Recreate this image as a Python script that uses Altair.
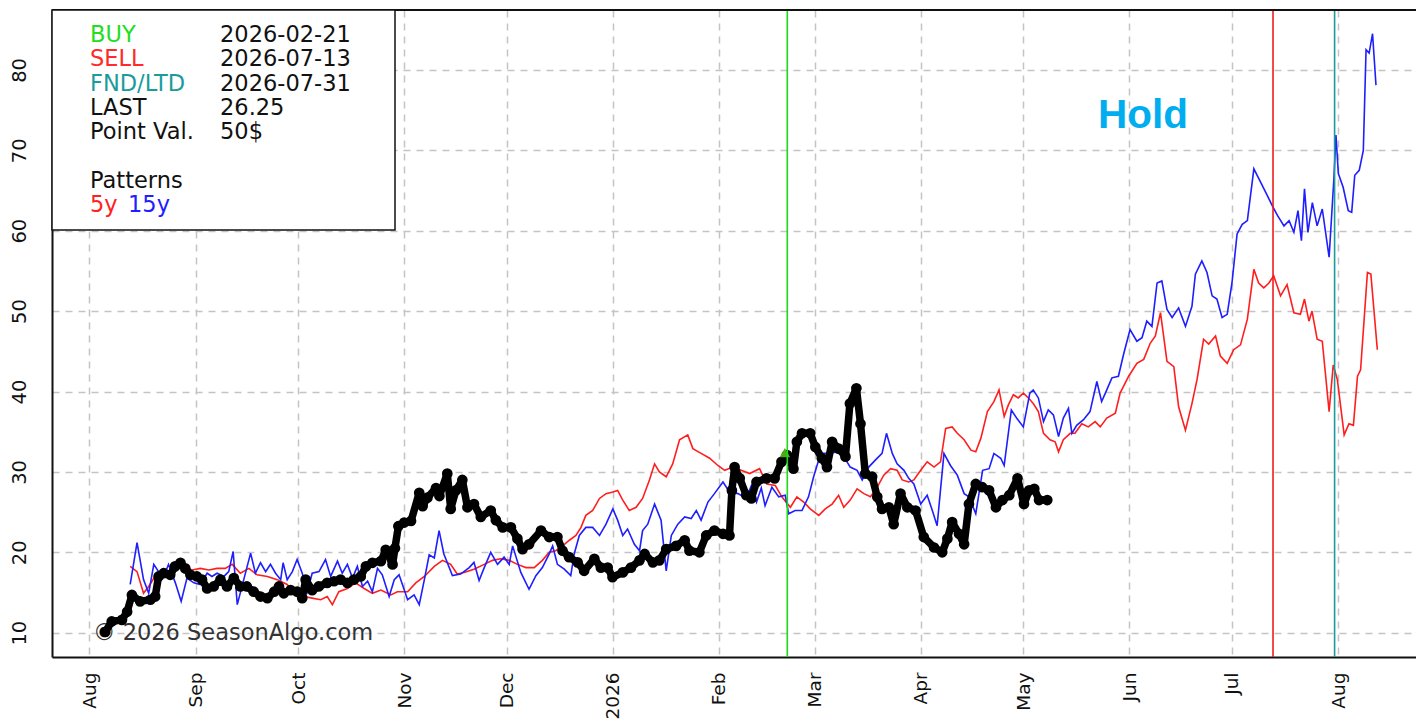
import altair as alt
import pandas as pd

BASE = "2025-08-01"  # day 0 of the day offsets below

# ---- actual contract (black), day offset from 2025-08-01 / price ----
black_day = [4.6, 6.5, 9.5, 11, 12.4, 14.8, 17.8, 19.2, 20.2, 21.7, 23.6, 25, 26.6, 28, 29.5,
             31.4, 32.9, 34.4, 36.3, 38.3, 40.2, 42.2, 44.1, 46, 48, 50, 52, 54, 55.4, 56.8,
             58.8, 60.7, 62.2, 63.2, 65.1, 67, 69.5, 71.5, 73.4, 75.4, 77.3, 79.3, 80.8, 82.7,
             85.2, 86.6, 88.6, 89.3, 90.3, 92, 94, 96.4, 97.4, 98.8, 101.3, 102.3, 104.6, 105.6,
             107.1, 109, 110.5, 112.4, 114.4, 117.3, 118.8, 120.8, 123.2, 125.1, 126.6, 128.5,
             132, 134.4, 136.8, 138.3, 140.2, 142.7, 144.6, 147.6, 149.5, 151.5, 152.9, 155.9,
             158.3, 160.8, 162.3, 164.7, 166.6, 168.6, 171.5, 174, 175.4, 178.3, 180.3, 182.7,
             185.2, 187.1, 187.8, 188.6, 190.1, 192, 193.5, 195, 197.9, 200.3, 202.3, 203.9,
             205.8, 206.8, 208.3, 210.7, 212.2, 214.1, 215.6, 217.1, 219, 221, 222.3, 224.2,
             225.4, 226.8, 228.8, 230.3, 231.7, 233.7, 235.1, 237.1, 239.1, 241.5, 243.9, 246.9,
             249.3, 250.8, 252.2, 254.2, 255.7, 257.1, 259.1, 261, 263, 265, 266.9, 268.9, 271.3,
             273.2, 274.7, 276.2, 277.6, 280]
black_val = [10.1, 11.4, 11.6, 12.6, 14.7, 13.9, 14.1, 14.5, 17, 17.4, 17.2, 18.25, 18.7, 18, 17.2,
             17, 16.6, 15.5, 15.75, 16.6, 15.75, 16.8, 15.75, 15.75, 15.1, 14.5, 14.3, 15.1, 15.75, 14.9,
             15.3, 15.1, 14.3, 16.6, 15.3, 15.75, 16.2, 16.4, 16.6, 16.2, 16.6, 17, 18.25, 18.7,
             18.9, 20.3, 18.5, 20.5, 23.25, 23.7, 23.9, 27.4, 25.75, 26.8, 28, 27, 29.8, 25.4,
             27.7, 29, 25.6, 26, 24.4, 25.2, 24, 23.1, 23.1, 21.7, 20.4, 21,
             22.7, 21.9, 21.9, 20.2, 19.4, 18.75, 17.7, 19.2, 18.1, 18.1, 16.9, 17.5,
             18.1, 19, 19.8, 18.75, 19, 20.4, 20.8, 21.5, 20.2, 20, 22.1, 22.7,
             22.3, 22.1, 27.7, 30.6, 29.2, 27.1, 26.7, 28.75, 29.2, 29.2, 31.25, 32.1,
             30.4, 33.75, 34.8, 34.8, 33.1, 31.7, 30.6, 33.75, 32.9, 31.9, 38.5, 40.4,
             36, 29.8, 29.4, 26.9, 25.4, 25.6, 23.5, 27.3, 25.6, 25.2, 21.9, 20.6,
             20, 21.7, 23.75, 22.3, 21, 26, 28.5, 28.1, 27.7, 25.6, 26.5, 27.1, 29.2,
             26, 27.7, 27.9, 26.5, 26.5]

# ---- 5 year pattern (red) ----
red_day = [11.9, 13.9, 15.8, 17.3, 19.2, 20.7, 22.7, 25.1, 27.5, 30, 32.4, 34.9, 37.3, 39.7, 41.7,
           44.1, 46.6, 49, 52, 54.9, 57.8, 59.8, 62.7, 65.1, 67.6, 69.5, 71, 72.9, 75.4, 77.8,
           80.3, 82.7, 85.2, 88.1, 90, 93, 95.4, 97.9, 100.8, 103.2, 105.6, 107.5, 109.5, 112.4,
           115.4, 117.8, 120.2, 122.7, 125.1, 127.6, 130, 132.4, 134.4, 136.3, 138.3, 140.3, 142.2,
           143.7, 145.1, 147.1, 149.1, 151, 153, 154.4, 155.9, 157.8, 159.8, 161.7, 163.7, 165.2,
           166.6, 168.6, 170.5, 172.5, 174.9, 176.4, 178.8, 181.3, 183.7, 185.7, 188.1, 190.5, 193,
           195.9, 198, 200.5, 202.4, 204.9, 206.8, 208.8, 210.7, 213.2, 215.1, 217.1, 219, 220.5,
           222.4, 224.4, 226.4, 228.3, 230.3, 232.2, 234.2, 236.1, 237.6, 239.5, 241, 243, 244.9,
           246.9, 248.8, 250.3, 252.2, 253.7, 255.7, 257.7, 259.1, 260.6, 262.5, 264.4, 265.9,
           267.4, 268.6, 270.1, 271.5, 273, 274.5, 275.9, 277.4, 278.9, 280.8, 282.3, 283.3, 284.7,
           286.7, 288.1, 290.1, 292, 294, 295.5, 297.4, 299.9, 301.3, 303.8, 306.2, 308.2, 310.1,
           311.6, 313.1, 315, 317, 318.4, 320.4, 322.3, 323.8, 325.7, 327.2, 329.2, 330.6, 332.6,
           334.5, 336.5, 338.5, 340.4, 341.8, 343.3, 344.8, 346.2, 348.2, 350.1, 352.1, 354, 355.2,
           356.5, 357.4, 358.9, 360.4, 362.4, 363.6, 364.8, 366.8, 368.2, 369.5, 370.7, 371.6,
           373.6, 374.6, 376.5]
red_val = [18.25, 17.6, 14.9, 15.75, 17, 17.4, 17.2, 18, 18.25, 17.8, 18, 17.8, 18, 18, 18.5,
           17.4, 18, 17.2, 17, 16.6, 16, 14.9, 14.5, 14.3, 14.1, 14.5, 13.5, 15.1, 15.5, 16.2,
           15.5, 14.9, 15.3, 14.7, 15.1, 15.1, 16.2, 17, 18.25, 19, 18.5, 17.3, 17.5, 17.9,
           18.5, 19, 19.2, 19, 18.5, 18.1, 18.1, 19, 20, 20.2, 20.8, 21.5, 22.1,
           23.1, 24.6, 25.2, 26.7, 27.3, 27.5, 27.7, 26.5, 25.2, 25.6, 26.7, 29, 31,
           30, 29.4, 31, 34, 34.6, 32.9, 32.3, 31.7, 30.8, 30.2, 30.6, 30.2, 29.8,
           30.4, 28.5, 28.3, 26.9, 25.6, 26.9, 26.25, 25.4, 24.6, 25.4, 26, 27.1, 25.6,
           26.5, 27.9, 27.3, 26.9, 28.1, 29.6, 30.4, 30.2, 29, 28.75, 29, 30.2, 31.25,
           30.6, 31.25, 35.4, 35.6, 34.8, 34, 32.7, 32.5, 34.2, 37.5, 38.75, 40.2,
           36.9, 38.3, 39.6, 39.2, 39.8, 39.2, 38.5, 37.5, 34.8, 34, 33.75, 32.5, 34,
           34.8, 34.8, 36, 35.6, 36.25, 35.6, 36.7, 37.3, 39.8, 41.9, 43.5, 44, 46,
           46.9, 49.8, 43.75, 43.1, 38.1, 35.2, 38.5, 41.5, 46.5, 45.9, 46.9, 44.4, 43.5,
           45.2, 45.8, 49, 55.2, 53.5, 52.9, 53.5, 54.4, 51.9, 53.3, 49.8, 49.6, 51.5,
           48.75, 50, 46.5, 46.25, 37.5, 43.3, 41.5, 34.6, 36, 35.8, 41.9, 42.7,
           54.8, 54.6, 45.2]

# ---- 15 year pattern (blue) ----
blue_day = [11.9, 13.9, 15.8, 17.3, 18.8, 20.2, 21.7, 23.1, 25.1, 26.8, 28.5, 30.5, 32.4, 34.4,
            35.8, 37.3, 39.3, 40.7, 42, 43.2, 45.1, 47.1, 48.5, 50, 51.5, 52.9, 54.4, 55.9, 56.6,
            57.8, 59.3, 60.7, 62.2, 63.7, 65.1, 67.1, 69, 70.5, 72.5, 73.9, 75.4, 76.9, 78.3, 79.8,
            81.3, 82.7, 84.2, 85.6, 87.6, 89.1, 90.5, 93, 94.9, 96.4, 97.9, 99.3, 100.8, 102.2,
            103.6, 106.1, 108.5, 111, 112.4, 113.9, 115.4, 117.3, 119.3, 121.2, 122.7, 123.7, 126.1,
            128.5, 130.5, 132.4, 134.4, 135.4, 136.8, 138.8, 140.7, 141.7, 143.2, 145.1, 147.1,
            149.1, 151, 153, 154.4, 155.9, 157.3, 159.3, 160.8, 161.7, 163.2, 165.2, 167.1, 168.6,
            170.1, 172, 174, 175.9, 177.4, 178.8, 180.8, 182.7, 185.2, 187.1, 189.6, 192, 193.5,
            195, 196.4, 197.5, 199.5, 201.5, 203.4, 204.4, 206.3, 208.3, 210.2, 211.7, 213.2,
            214.6, 216.6, 218.5, 220.5, 222.4, 224.4, 225.9, 227.8, 229.8, 231.7, 233, 234.7,
            236.1, 238.1, 239.5, 241, 243, 244.9, 246.4, 247.8, 249.8, 251.7, 253.7, 255.7, 257.1,
            259.1, 261.1, 263, 264.4, 266.4, 267.4, 269.5, 271.2, 273, 274.9, 275.9, 277.4, 278.9,
            280.3, 281.8, 283.3, 284.7, 286.2, 287.2, 288.6, 290.6, 292.5, 294.5, 295.9, 297.4,
            298.9, 300.8, 302.3, 304.2, 306.2, 307.7, 309.1, 310.6, 312.1, 313.5, 315, 316.5,
            318.4, 320.4, 322.3, 323.3, 325.2, 326.7, 328.2, 329.6, 331.1, 332.6, 334, 335.5, 337,
            338.5, 340.4, 342.4, 344.3, 345.8, 347.3, 349.2, 350.7, 352.1, 353.3, 354.3, 355.2,
            356.2, 357.5, 358.9, 360.4, 362.4, 363.8, 364.4, 365.1, 366.5, 368, 369, 369.9, 371.2,
            372.4, 373.2, 374.1, 375.1, 376.1]
blue_val = [16, 21.2, 16.6, 14.9, 18.5, 17.6, 17, 18.5, 16.2, 13.9, 16.8, 16.2, 16, 17.4,
            17, 17.4, 17, 17.6, 20.1, 13.5, 16.6, 19.9, 17.4, 18.7, 17.6, 18.5, 17.4, 16.6, 18.7,
            16.6, 17.6, 19.1, 17.4, 15.1, 17.4, 17.6, 19.1, 17, 18.9, 17.4, 18.5, 16.8, 18.25, 15.75,
            16.4, 15.1, 18, 17.2, 14.5, 16.6, 17.2, 14.1, 14.7, 13.5, 16.6, 19.7, 19.3, 22.7,
            19.8, 17.1, 17.3, 18.1, 18.75, 16.5, 18.1, 20, 18.5, 19.4, 18.5, 20.8, 17.5,
            15.4, 17.1, 18.1, 19.8, 20.8, 18.5, 17.9, 17.1, 19.8, 22.1, 23.1, 23.1,
            22.1, 23.5, 25.4, 24, 22.1, 22.9, 21, 20.2, 22.7, 23.5, 26, 24, 17.7,
            22.1, 23.5, 24.4, 24.2, 25.2, 24, 26.25, 27.3, 28.75, 27.5, 27.3, 26.7, 28.3,
            26.25, 28, 25.8, 28.1, 26.9, 27.1, 24.8, 25.2, 25.2, 26.9, 29.4, 31.5,
            32.3, 32.3, 32.5, 31.9, 30.6, 30.2, 29, 30.6, 31.5, 32.3, 34.8, 32.3,
            31, 30.2, 29.2, 28.5, 26, 27.1, 25.2, 23.3, 32.3, 30.8, 29.6, 27.3, 26.9,
            24.8, 30.2, 30.4, 32.3, 31.7, 30.8, 37.7, 36.6, 35.6, 39.8, 40.2, 39.2, 36.25,
            37.7, 37.1, 34.4, 36.7, 37.9, 34.8, 35.8, 36.5, 37.5, 41.25, 38.75, 40.2,
            41.7, 41.9, 44.6, 47.7, 46.25, 46.7, 48.75, 48.1, 53.5, 53.75, 50.2, 49.2,
            50.4, 48.1, 50.6, 54.6, 56.25, 54.8, 51.9, 51.5, 49.2, 49.6, 53.5, 59.6, 60.8,
            61.25, 67.7, 66, 64.4, 63.1, 61.9, 60.6, 61.25, 59.8, 62.5, 58.75, 65.2,
            59.8, 63.5, 60.6, 62.7, 56.7, 66.5, 71.9, 67.1, 65.4, 62.5, 62.3, 66.9, 67.5,
            70, 82.5, 82.1, 84.5, 78.1]

# ---- axes ----
month_ticks = ["2025-08-01", "2025-09-01", "2025-10-01", "2025-11-01", "2025-12-01",
               "2026-01-01", "2026-02-01", "2026-03-01", "2026-04-01", "2026-05-01",
               "2026-06-01", "2026-07-01", "2026-08-01"]
y_ticks = [10, 20, 30, 40, 50, 60, 70, 80]
x_domain_days = [-10.96, 387.8]
y_domain = [6.98, 87.45]

# ---- signals ----
signal_names = ["BUY", "SELL", "FND/LTD"]
signal_dates = ["2026-02-21", "2026-07-13", "2026-07-31"]
signal_colors = ["#18dc18", "#f01c1c", "#1a9c9c"]
buy_marker_day = [203.3]
buy_marker_val = [32.4]

legend_labels = ["BUY", "SELL", "FND/LTD", "LAST", "Point Val.", "Patterns"]
legend_values = ["2026-02-21", "2026-07-13", "2026-07-31", "26.25", "50$", ""]
legend_colors = ["#22dd22", "#ff2a2a", "#1a9c9c", "#111111", "#111111", "#111111"]
legend_rows = [0, 1, 2, 3, 4, 6]
pattern_names = ["5y", "15y"]
pattern_colors = ["#ff2020", "#2020ff"]

W, H = 1364, 647


def to_iso(days):
    b = pd.Timestamp(BASE)
    return [(b + pd.Timedelta(days=d)).strftime("%Y-%m-%dT%H:%M:%SZ") for d in days]


def ms(s):
    return int(pd.Timestamp(s, tz="UTC").value // 10**6)


base_ms = ms(BASE)
x_dom = [base_ms + int(d * 86400000) for d in x_domain_days]

x_axis = alt.Axis(
    values=[ms(d) for d in month_ticks],
    labelExpr="utcFormat(datum.value, '%m') == '01' ? utcFormat(datum.value, '%Y') : utcFormat(datum.value, '%b')",
    labelAngle=270, labelAlign="right", labelBaseline="middle", labelPadding=15,
    labelFontSize=18.5, labelFont="DejaVu Sans", labelColor="#111111",
    labelOverlap=False, labelFlush=False,
    ticks=False, tickSize=0, domainColor="#111111", domainWidth=2,
    grid=True, gridColor="#c4c4c4", gridDash=[7, 6], gridWidth=1.5, title=None)
y_axis = alt.Axis(
    values=y_ticks, labelAngle=270, labelAlign="center", labelBaseline="alphabetic",
    labelPadding=27, labelFontSize=19.5, labelFont="DejaVu Sans", labelColor="#111111",
    labelOverlap=False, labelFlush=False,
    ticks=False, tickSize=0, domainColor="#111111", domainWidth=2,
    grid=True, gridColor="#c4c4c4", gridDash=[7, 6], gridWidth=1.5, title=None)

X = alt.X("date:T", scale=alt.Scale(type="utc", domain=x_dom, nice=False), axis=x_axis)
Y = alt.Y("value:Q", scale=alt.Scale(domain=y_domain, nice=False, zero=False), axis=y_axis)

df_black = pd.DataFrame({"date": to_iso(black_day), "value": black_val})
df_red = pd.DataFrame({"date": to_iso(red_day), "value": red_val})
df_blue = pd.DataFrame({"date": to_iso(blue_day), "value": blue_val})
df_buy = pd.DataFrame({"date": to_iso(buy_marker_day), "value": buy_marker_val})
df_sig = pd.DataFrame({"date": [d + "T00:00:00Z" for d in signal_dates],
                       "color": signal_colors, "name": signal_names})
one = pd.DataFrame({"k": [0]})

layers = []

# copyright text (under the data)
layers.append(alt.Chart(one).mark_text(
    text="\u00a9 2026 SeasonAlgo.com", align="left", baseline="middle",
    font="DejaVu Sans", fontSize=22.5, color="#333333").encode(
    x=alt.value(41), y=alt.value(623)))

layers.append(alt.Chart(df_red).mark_line(color="#ff1e1e", strokeWidth=1.6, clip=True).encode(x=X, y=Y))
layers.append(alt.Chart(df_blue).mark_line(color="#1e1eff", strokeWidth=1.6, clip=True).encode(x=X, y=Y))
layers.append(alt.Chart(df_black).mark_line(color="black", strokeWidth=7.5, strokeJoin="round",
                                            strokeCap="round", clip=True).encode(x=X, y=Y))
layers.append(alt.Chart(df_black).mark_circle(color="black", size=115, opacity=1,
                                              clip=True).encode(x=X, y=Y))
layers.append(alt.Chart(df_buy).mark_point(shape="triangle-up", filled=True, color="#4caa14",
                                           size=110, opacity=1).encode(x=X, y=Y))
layers.append(alt.Chart(df_sig).mark_rule(strokeWidth=1.6).encode(
    x=X, color=alt.Color("color:N", scale=None)))

# top frame line
layers.append(alt.Chart(one).mark_rule(color="#111111", strokeWidth=2).encode(
    x=alt.value(0), x2=alt.value(W), y=alt.value(0)))

# legend box
layers.append(alt.Chart(one).mark_rect(fill="white", stroke="#111111", strokeWidth=1.5).encode(
    x=alt.value(0), x2=alt.value(343), y=alt.value(0), y2=alt.value(220)))

row_y0, row_step = 25, 24.3
for lab, val, col, r in zip(legend_labels, legend_values, legend_colors, legend_rows):
    yy = row_y0 + row_step * r
    layers.append(alt.Chart(one).mark_text(
        text=lab, align="left", baseline="middle", font="DejaVu Sans", fontSize=22.5,
        color=col).encode(x=alt.value(38), y=alt.value(yy)))
    if val:
        layers.append(alt.Chart(one).mark_text(
            text=val, align="left", baseline="middle", font="DejaVu Sans", fontSize=22.5,
            color="#111111").encode(x=alt.value(168), y=alt.value(yy)))

pat_x = [38, 76]
for name, col, px in zip(pattern_names, pattern_colors, pat_x):
    layers.append(alt.Chart(one).mark_text(
        text=name, align="left", baseline="middle", font="DejaVu Sans", fontSize=22.5,
        color=col).encode(x=alt.value(px), y=alt.value(row_y0 + row_step * 7)))

# "Hold" annotation
layers.append(alt.Chart(one).mark_text(
    text="Hold", align="left", baseline="alphabetic", font="Liberation Sans",
    fontWeight="bold", fontSize=40.5, color="#00aeef").encode(
    x=alt.value(1046), y=alt.value(118)))

chart = alt.layer(*layers).properties(
    width=W, height=H,
    autosize=alt.AutoSizeParams(type="none"),
    padding={"left": 44, "top": 2, "right": 0, "bottom": 63},
    background="white",
).configure_view(stroke=None)

chart.save("out.html", embed_options={"renderer": "svg", "actions": False})
